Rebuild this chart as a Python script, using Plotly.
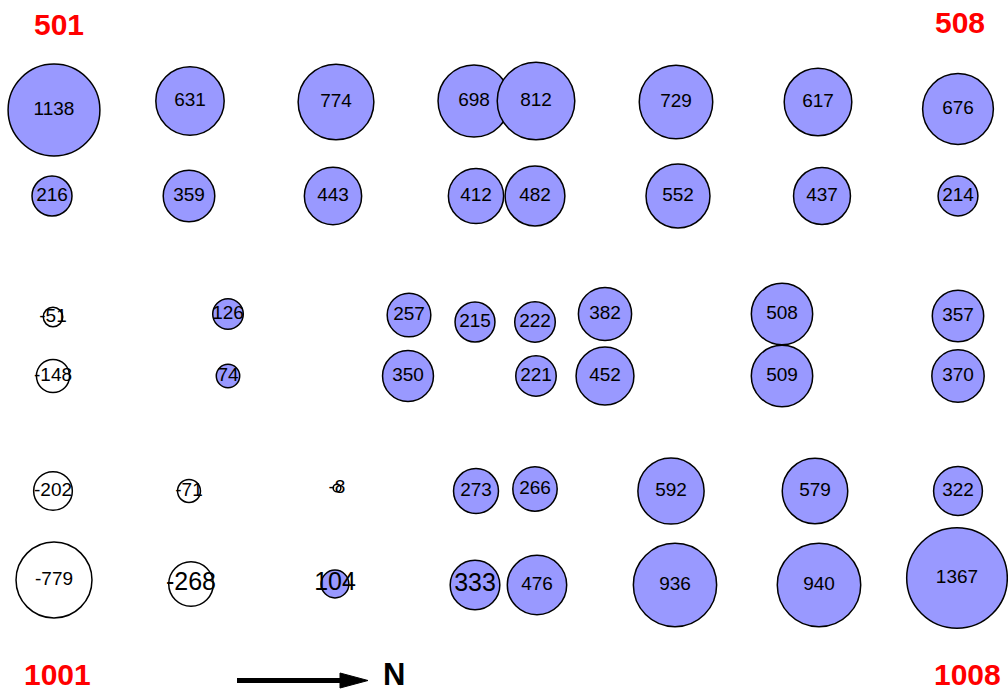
import numpy as np
import plotly.graph_objects as go

# bubble values
values = [1138, 631, 774, 698, 812, 729, 617, 676,
          216, 359, 443, 412, 482, 552, 437, 214,
          -51, 126, 257, 215, 222, 382, 508, 357,
          -148, 74, 350, 221, 452, 509, 370,
          -202, -71, -8, 273, 266, 592, 579, 322,
          -779, -268, 104, 333, 476, 936, 940, 1367]
# positions on the field (east-west, north-south)
xpos = [54, 190, 336, 474, 536, 676, 818, 958,
        52, 189, 333, 476, 535, 678, 822, 958,
        53, 228, 409, 475, 535, 605, 782, 958,
        53, 228, 408, 536, 605, 782, 958,
        53, 189, 337, 476, 535, 671, 815, 958,
        54, 191, 335, 475, 537, 675, 819, 957]
ypos = [110, 101, 102, 101, 101, 102, 102, 109,
        196, 196, 196, 196, 196, 196, 196, 196,
        317, 314, 315, 322, 322, 314, 314, 316,
        376, 376, 376, 376, 376, 376, 376,
        491, 491, 488, 491, 489, 491, 491, 491,
        580, 584, 584, 585, 585, 585, 585, 578]
# label font emphasis (larger labels)
big_labels = [-268, 104, 333]

corner_labels = ["501", "508", "1001", "1008"]
corner_x = [59, 960, 57, 967]
corner_y = [24, 22, 674, 674]

colors = ["#9999FF" if v > 0 else "white" for v in values]
fsizes = [25 if v in big_labels else 19 for v in values]

fig = go.Figure()
fig.add_trace(go.Scatter(
    x=xpos, y=ypos, mode="markers+text",
    text=[str(v) for v in values],
    textposition="middle center",
    textfont=dict(family="Liberation Sans, Arial", size=fsizes, color="black"),
    marker=dict(size=np.abs(values), sizemode="area", sizeref=0.27,
                color=colors, line=dict(color="black", width=1.5), opacity=1),
    hoverinfo="skip", showlegend=False, cliponaxis=False,
))

for t, cx, cy in zip(corner_labels, corner_x, corner_y):
    fig.add_annotation(x=cx, y=cy, text="<b>%s</b>" % t, showarrow=False,
                       font=dict(family="Liberation Sans, Arial", size=30, color="red"),
                       xanchor="center", yanchor="middle", borderpad=0)

# north arrow
fig.add_shape(type="line", x0=237, y0=680.5, x1=345, y1=680.5,
              line=dict(color="black", width=5))
fig.add_shape(type="path", path="M 340 673 L 368 680.5 L 340 688 Z",
              fillcolor="black", line=dict(color="black", width=1))
fig.add_annotation(x=394, y=674, text="<b>N</b>", showarrow=False,
                   font=dict(family="Liberation Sans, Arial", size=31, color="black"),
                   xanchor="center", yanchor="middle", borderpad=0)

fig.update_layout(
    width=1008, height=692, margin=dict(l=0, r=0, t=0, b=0),
    paper_bgcolor="white", plot_bgcolor="white",
    xaxis=dict(range=[0, 1008], visible=False, fixedrange=True),
    yaxis=dict(range=[692, 0], visible=False, fixedrange=True),
)
fig.write_html("out.html", config={"displayModeBar": False},
               post_script="document.body.style.margin='0';document.body.style.overflow='hidden';")
